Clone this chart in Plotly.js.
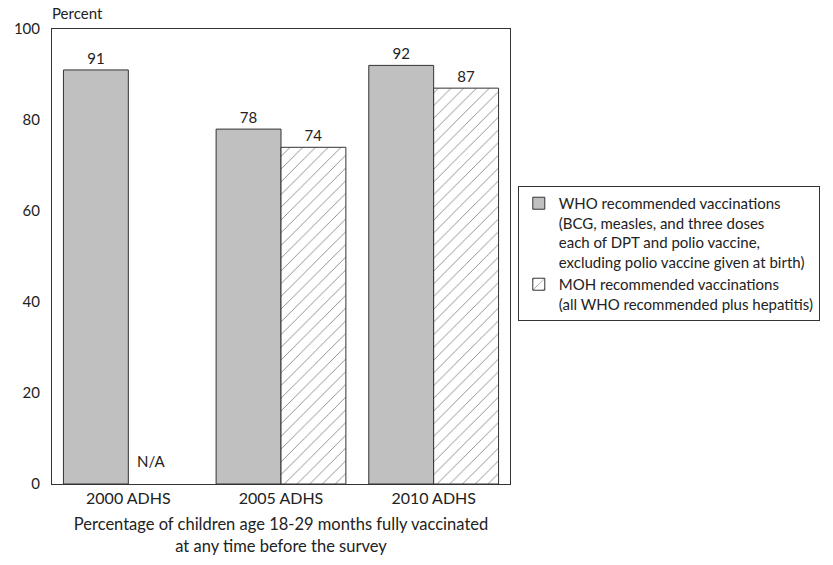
<!DOCTYPE html>
<html>
<head>
<meta charset="utf-8">
<script src="https://cdn.plot.ly/plotly-3.0.1.min.js"></script>
<style>html,body{margin:0;padding:0;background:#fff;}</style>
</head>
<body>
<div id="chart" style="width:833px;height:565px;"></div>
<script>
const categories = ["2000 ADHS", "2005 ADHS", "2010 ADHS"];
const whoValues = [91, 78, 92];
const mohValues = [null, 74, 87];
const whoName = "WHO recommended vaccinations<br>(BCG, measles, and three doses<br>each of DPT and polio vaccine,<br>excluding polio vaccine given at birth)";
const mohName = "MOH recommended vaccinations<br>(all WHO recommended plus hepatitis)";
const yTicks = [0, 20, 40, 60, 80, 100];

const FONT = "Lato, 'Open Sans', sans-serif";

const traces = [
  {
    type: "bar", name: whoName, x: categories, y: whoValues,
    text: whoValues.map(v => v == null ? "" : String(v)),
    textposition: "outside", cliponaxis: false,
    textfont: {family: FONT, size: 15, color: "#222"},
    marker: {color: "#c0c0c0", line: {color: "#333", width: 1}}
  },
  {
    type: "bar", name: mohName, x: categories, y: mohValues,
    text: mohValues.map(v => v == null ? "" : String(v)),
    textposition: "outside", cliponaxis: false,
    textfont: {family: FONT, size: 15, color: "#222"},
    marker: {color: "#ffffff", line: {color: "#333", width: 1},
      pattern: {shape: "/", fgcolor: "#888", bgcolor: "#ffffff", size: 9, solidity: 0.1}}
  }
];

const annotations = [
  {xref: "paper", yref: "paper", x: -0.005, y: 1.01, xanchor: "left", yanchor: "bottom",
   text: "Percent", showarrow: false, font: {family: FONT, size: 15, color: "#222"}}
];
mohValues.forEach((v, i) => {
  if (v == null) {
    annotations.push({xref: "x", yref: "y", x: categories[i], y: 5, xshift: 23,
      text: "N/A", showarrow: false, font: {family: FONT, size: 15, color: "#222"}});
  }
});

const layout = {
  width: 833, height: 565,
  margin: {l: 52, r: 323, t: 29, b: 81},
  paper_bgcolor: "#fff", plot_bgcolor: "#fff",
  font: {family: FONT, size: 15, color: "#222"},
  barmode: "group", bargap: 0.15, bargroupgap: 0,
  showlegend: true,
  legend: {x: 1.017, y: 0.655, xanchor: "left", yanchor: "top", valign: "top",
    bordercolor: "#333", borderwidth: 1, font: {family: FONT, size: 15, color: "#222"},
    tracegroupgap: 2, itemwidth: 30},
  xaxis: {type: "category", range: [-0.5, 2.5], showline: true, mirror: true,
    linecolor: "#333", linewidth: 1, ticks: "", showgrid: false,
    tickfont: {family: FONT, size: 16, color: "#222"},
    title: {text: "Percentage of children age 18-29 months fully vaccinated<br>at any time before the survey",
      font: {family: FONT, size: 16.5, color: "#222"}, standoff: 12}},
  yaxis: {range: [0, 100], tickvals: yTicks, showline: true, mirror: true,
    linecolor: "#333", linewidth: 1, ticks: "", showgrid: false, zeroline: false,
    ticklabelstandoff: 8, tickfont: {family: FONT, size: 15, color: "#222"}},
  annotations: annotations
};

Plotly.newPlot("chart", traces, layout, {displayModeBar: false, staticPlot: true});
</script>
</body>
</html>
